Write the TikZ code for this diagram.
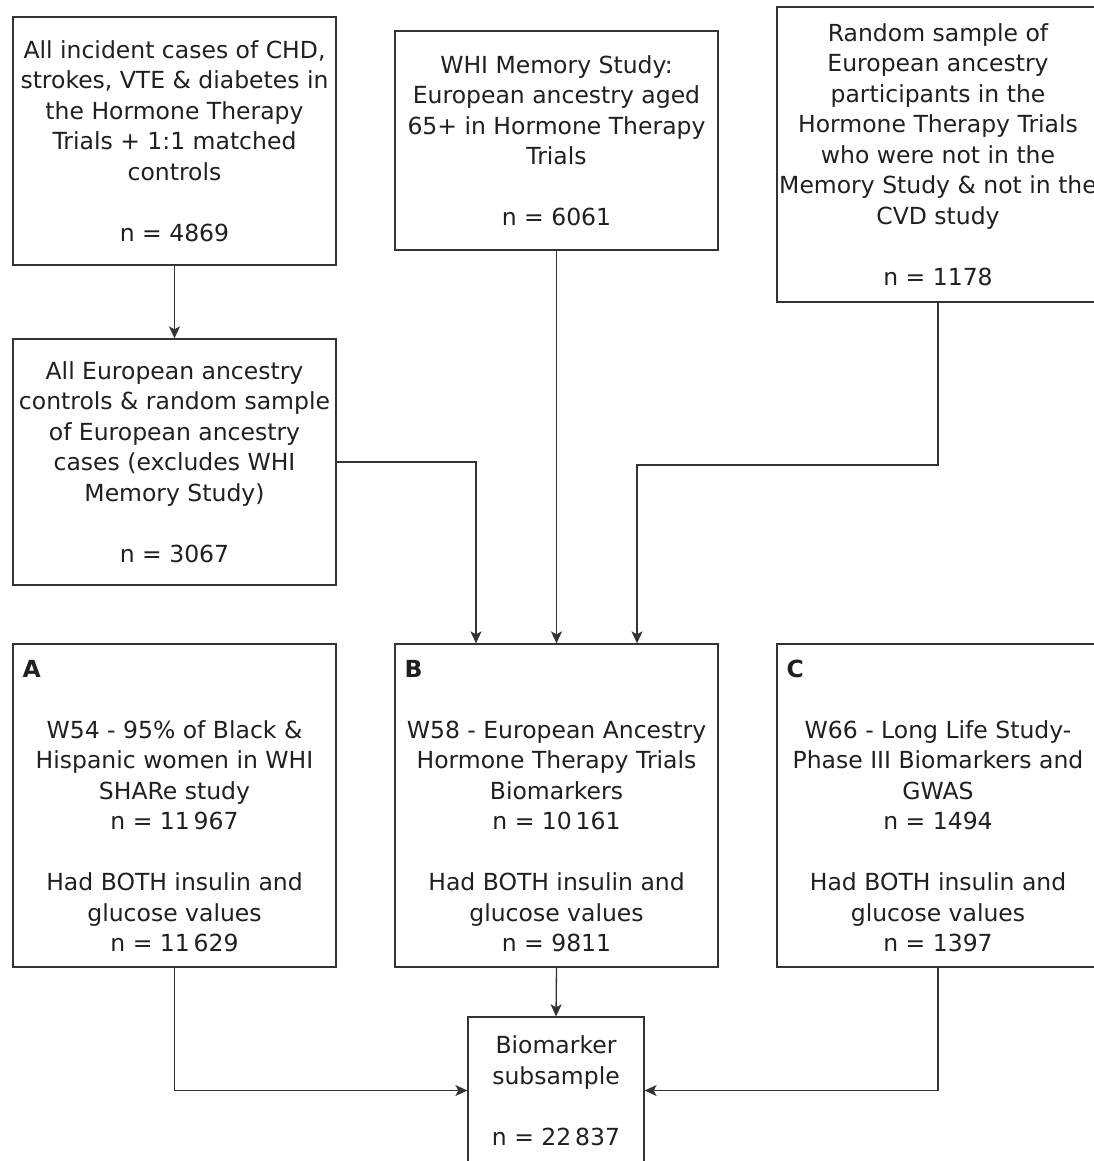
\documentclass[tikz,border=0pt]{standalone}
\usepackage{fontspec}
\setmainfont{DejaVu Sans}
\usetikzlibrary{arrows.meta}
\definecolor{ink}{HTML}{231F20}
\definecolor{edge}{HTML}{333333}
\begin{document}
\begin{tikzpicture}[x=1pt,y=-1pt,
  box/.style={draw=edge, line width=1.3pt, rectangle, minimum width=323pt, align=center, inner sep=0pt, text=ink, font=\fontsize{23.5}{30.5}\selectfont},
  arr/.style={draw=edge, line width=1.3pt, -{Stealth[length=12pt,width=11pt,inset=3pt]}},
  tag/.style={anchor=base west, inner sep=0pt, text=ink, font=\fontsize{23.5}{30.5}\selectfont\bfseries}]
\clip (0,0) rectangle (1094,1161);
\fill[white] (0,0) rectangle (1094,1161);

\node[box, minimum height=248pt] (b1) at (174.5,141) {All incident cases of CHD,\\strokes, VTE \& diabetes in\\the Hormone Therapy\\Trials + 1:1 matched\\controls\\[30.5pt]n = 4869};
\node[box, minimum height=246pt] (b2) at (174.5,462) {All European ancestry\\controls \& random sample\\of European ancestry\\cases (excludes WHI\\Memory Study)\\[30.5pt]n = 3067};
\node[box, minimum height=219pt] (whi) at (556.5,140.5) {WHI Memory Study:\\European ancestry aged\\65+ in Hormone Therapy\\Trials\\[30.5pt]n = 6061};
\node[box, minimum width=322pt, minimum height=295pt] (rnd) at (938,154.5) {Random sample of\\European ancestry\\participants in the\\Hormone Therapy Trials\\who were not in the\\Memory Study \& not in the\\CVD study\\[30.5pt]n = 1178};

\node[box, minimum height=323pt] (A) at (174.5,805.5) {\rule{0pt}{18pt}\\\mbox{}\\W54 - 95\% of Black \&\\Hispanic women in WHI\\SHARe study\\n = 11\,967\\[30.5pt]Had BOTH insulin and\\glucose values\\n = 11\,629};
\node[box, minimum height=323pt] (B) at (556.5,805.5) {\rule{0pt}{18pt}\\\mbox{}\\W58 - European Ancestry\\Hormone Therapy Trials\\Biomarkers\\n = 10\,161\\[30.5pt]Had BOTH insulin and\\glucose values\\n = 9811};
\node[box, minimum width=322pt, minimum height=323pt] (C) at (938,805.5) {\rule{0pt}{18pt}\\\mbox{}\\W66 - Long Life Study-\\Phase III Biomarkers and\\GWAS\\n = 1494\\[30.5pt]Had BOTH insulin and\\glucose values\\n = 1397};

\node[tag] (tA) at ([xshift=10pt,yshift=-34pt]A.north west) {A};
\node[tag] (tB) at ([xshift=10pt,yshift=-34pt]B.north west) {B};
\node[tag] (tC) at ([xshift=10pt,yshift=-34pt]C.north west) {C};

\node[box, minimum width=176pt, minimum height=147pt] (bio) at (556,1090.5) {Biomarker\\subsample\\[30.5pt]n = 22\,837};

\coordinate (bl) at ([xshift=-80.5pt]B.north);
\coordinate (br) at ([xshift=80.5pt]B.north);
\coordinate (jr) at (637,465);

\draw[arr] (b1.south) -- (b2.north);
\draw[arr] (b2.east) -| (bl);
\draw[arr] (whi.south) -- (B.north);
\draw[arr] (rnd.south) |- (jr) -- (br);
\draw[arr] (B.south) -- (bio.north);
\draw[arr] (A.south) |- (bio.west);
\draw[arr] (C.south) |- (bio.east);
\end{tikzpicture}
\end{document}
